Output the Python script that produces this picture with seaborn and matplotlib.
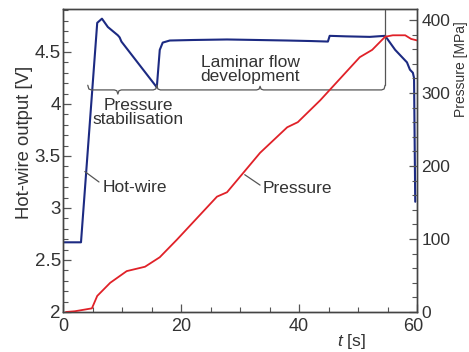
import numpy as np
import pandas as pd
import seaborn as sns
import matplotlib
matplotlib.use('Agg')
import matplotlib.pyplot as plt
import matplotlib.transforms as mtransforms

# Hot-wire signal (left axis)
hw_t = [0, 3.05, 5.8, 6.2, 6.6, 7.6, 9.3, 9.6, 9.9, 15.9, 16.4, 16.9, 18.1,
        22, 27.8, 33, 38, 42, 44.9, 45.2, 48, 52, 54.6, 56.3, 58.3, 58.8,
        59.3, 59.5, 59.7]
hw_v = [2.67, 2.67, 4.78, 4.80, 4.82, 4.74, 4.66, 4.64, 4.60, 4.16, 4.52, 4.59,
        4.61, 4.615, 4.62, 4.615, 4.61, 4.605, 4.60, 4.655, 4.65, 4.645, 4.655,
        4.52, 4.40, 4.33, 4.30, 4.25, 3.06]

# Pressure (right axis)
p_t = [0.5, 2, 4.9, 5.8, 8, 10.8, 13.9, 16.4, 19.3, 26.1, 27.8, 33.4, 38,
       39.8, 43.6, 50.3, 52.4, 54.6, 55.9, 58.0, 59, 60]
p_mpa = [0, 1, 5, 22, 40, 56, 62, 75, 99, 158, 164, 218, 253, 260, 290, 349,
         359, 377, 379, 379, 374, 372]

# stage brackets
stage_t = [4.2, 15.9, 54.6]
brace_mid = [9.3, 33.4]

hw = pd.DataFrame({'t': hw_t, 'v': hw_v})
pr = pd.DataFrame({'t': p_t, 'p': p_mpa})

sns.set_style('ticks')
plt.rcParams['font.family'] = ['Liberation Sans', 'DejaVu Sans']
plt.rcParams['mathtext.fontset'] = 'custom'
plt.rcParams['mathtext.it'] = 'Liberation Sans:italic'
plt.rcParams['mathtext.rm'] = 'Liberation Sans'

txt = '#333333'
fig = plt.figure(figsize=(4.69, 3.52), dpi=100)
ax = fig.add_axes([63 / 469, 1 - 312 / 352, 354 / 469, 303 / 352])
ax2 = ax.twinx()

sns.lineplot(data=hw, x='t', y='v', ax=ax, color='#1c2a82', lw=1.5,
             estimator=None, sort=False)
sns.lineplot(data=pr, x='t', y='p', ax=ax2, color='#e02128', lw=1.3,
             estimator=None, sort=False)

ax.set_xlim(0, 60)
ax.set_ylim(2, 4.913)
ax2.set_ylim(0, 415)

ax.set_xticks([0, 20, 40, 60])
ax.set_xticks(np.arange(0, 61, 5), minor=True)
ax.set_yticks([2, 2.5, 3, 3.5, 4, 4.5])
ax.set_yticklabels(['2', '2.5', '3', '3.5', '4', '4.5'])
ax.set_yticks(np.arange(2, 4.91, 0.1), minor=True)
ax2.set_yticks([0, 100, 200, 300, 400])
ax2.set_yticks(np.arange(0, 401, 20), minor=True)

for a in (ax, ax2):
    a.tick_params(which='major', direction='in', length=6, width=0.9,
                  color='#555555', labelcolor=txt)
    a.tick_params(which='minor', direction='in', length=3.5, width=0.8,
                  color='#555555')
    for s in a.spines.values():
        s.set_color('#444444')
        s.set_linewidth(1.0)
ax.tick_params(top=False, right=False, which='both')
ax2.tick_params(left=False, which='both')
ax.tick_params(axis='x', pad=4, labelsize=13)
ax.tick_params(axis='y', pad=1.5, labelsize=13.5)
ax2.tick_params(axis='y', pad=3, labelsize=12.5)

# shift the last x label left a bit, as in the original
lab60 = ax.get_xticklabels()[-1]
lab60.set_transform(lab60.get_transform() +
                    mtransforms.ScaledTranslation(-4 / 100, 0, fig.dpi_scale_trans))

ax.set_xlabel(r'$t$ [s]', fontsize=12.5, color=txt)
ax.xaxis.set_label_coords(0.814, -0.066)
ax.set_ylabel('Hot-wire output [V]', fontsize=13.3, color=txt)
ax.yaxis.set_label_coords(-0.085, 0.56)
ax2.set_ylabel('Pressure [MPa]', fontsize=10, color=txt, rotation=90)
ax2.yaxis.set_label_coords(1.105, 0.80)


def brace(x0, x1, xm, y, h_end, h_mid):
    dx = 0.6
    xs = [x0, x0 + dx * 0.3, x0 + dx, xm - dx, xm - dx * 0.3, xm,
          xm + dx * 0.3, xm + dx, x1 - dx, x1 - dx * 0.3, x1]
    ys = [y + h_end, y + h_end * 0.2, y, y, y + h_mid * 0.2, y + h_mid,
          y + h_mid * 0.2, y, y, y + h_end * 0.2, y + h_end]
    ax.plot(xs, ys, color='#555555', lw=0.9)


brace(stage_t[0], stage_t[1], brace_mid[0], 4.135, 0.045, -0.04)
brace(stage_t[1], stage_t[2], brace_mid[1], 4.135, 0.045, 0.035)
ax.plot([stage_t[2], stage_t[2]], [4.18, 4.90], color='#555555', lw=0.9)

ax.text(12.7, 3.92, 'Pressure\nstabilisation', fontsize=12.5, color=txt,
        ha='center', va='center', linespacing=0.95)
ax.text(31.7, 4.33, 'Laminar flow\ndevelopment', fontsize=12.5, color=txt,
        ha='center', va='center', linespacing=0.95)

ax.plot([3.7, 6.1], [3.35, 3.25], color='#555555', lw=0.9)
ax.text(6.8, 3.20, 'Hot-wire', fontsize=12.5, color=txt, ha='left', va='center')
ax.plot([30.8, 33.4], [3.32, 3.22], color='#555555', lw=0.9)
ax.text(33.9, 3.19, 'Pressure', fontsize=12.5, color=txt, ha='left', va='center')

fig.savefig('out.png', dpi=100)
